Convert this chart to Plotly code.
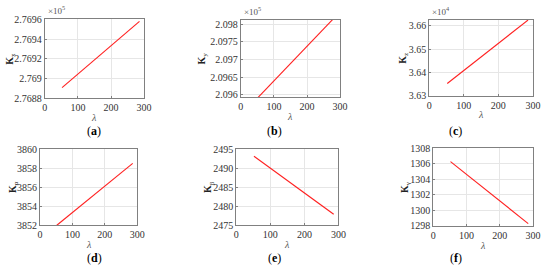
import plotly.graph_objects as go

# ---- data ----
lam = [52, 286]
Kx = [2.76891e5, 2.76958e5]
Ky = [2.09592e5, 2.09822e5]
Kz = [3.6353e4, 3.6624e4]
Ka = [3852.0, 3858.5]
Kb = [2493.2, 2477.9]
Kg = [1306.3, 1298.3]

x_ticks = [0, 100, 200, 300]
ticks_a = [2.7688, 2.769, 2.7692, 2.7694, 2.7696]
ticks_b = [2.096, 2.0965, 2.097, 2.0975, 2.098]
ticks_c = [3.63, 3.64, 3.65, 3.66]
ticks_d = [3852, 3854, 3856, 3858, 3860]
ticks_e = [2475, 2480, 2485, 2490, 2495]
ticks_f = [1298, 1300, 1302, 1304, 1306, 1308]

W, H = 550, 273
FONT = "Liberation Serif"

def fmt(v):
    s = ("%.4f" % v).rstrip("0").rstrip(".")
    return s

panels = [
    (Kx, 1e5, ticks_a, [2.7688, 2.7696], "5", "x", "a", (42.7, 144), (14, 96.7)),
    (Ky, 1e5, ticks_b, [2.09593, 2.09812], "5", "y", "b", (242.7, 344), (14.7, 95.3)),
    (Kz, 1e4, ticks_c, [3.63, 3.6624], "4", "z", "c", (435, 540.7), (14.7, 94)),
    (Ka, 1, ticks_d, [3852, 3860], None, "α", "d", (37.7, 137), (149.7, 229.3)),
    (Kb, 1, ticks_e, [2475, 2495], None, "β", "e", (238, 342.3), (150, 229.3)),
    (Kg, 1, ticks_f, [1298, 1308], None, "γ", "f", (439, 540.7), (149, 230)),
]

fig = go.Figure()
annotations = []
layout = {}
for i, (yv, sc, tks, yr, ex, sub, cap, xd, yd) in enumerate(panels, start=1):
    xa = "x" if i == 1 else "x%d" % i
    ya = "y" if i == 1 else "y%d" % i
    fig.add_trace(go.Scatter(x=lam, y=[v / sc for v in yv], mode="lines",
                             line=dict(color="#ff2020", width=1.1),
                             xaxis=xa, yaxis=ya, showlegend=False))
    axcommon = dict(showline=True, mirror=True, linecolor="#808080", linewidth=1,
                    showgrid=True, gridcolor="#e6e6e6", gridwidth=1,
                    ticks="inside", ticklen=2, tickcolor="#808080",
                    zeroline=False,
                    tickfont=dict(family=FONT, size=10, color="#333333"))
    xdom = [xd[0] / W, xd[1] / W]
    ydom = [1 - yd[1] / H, 1 - yd[0] / H]
    layout["xaxis" if i == 1 else "xaxis%d" % i] = dict(
        domain=xdom, range=[0, 300], tickvals=x_ticks, anchor=ya, **axcommon)
    layout["yaxis" if i == 1 else "yaxis%d" % i] = dict(
        domain=ydom, range=yr, tickvals=tks, ticktext=[fmt(t) for t in tks],
        anchor=xa, **axcommon)
    xmid = (xd[0] + xd[1]) / 2
    common = dict(xref="paper", yref="paper", showarrow=False)
    # lambda axis title
    annotations.append(dict(text="<i>λ</i>", x=xmid / W, y=1 - (yd[1] + 20) / H,
                            xanchor="center", yanchor="middle",
                            font=dict(family=FONT, size=10, color="#555555"), **common))
    # y-axis label
    lab_x = {1: 8, 2: 204, 3: 409, 4: 10, 5: 210, 6: 410}[i]
    annotations.append(dict(text="<b>K</b><sub>%s</sub>" % sub, x=lab_x / W,
                            y=1 - ((yd[0] + yd[1]) / 2) / H,
                            xanchor="center", yanchor="middle", textangle=-90,
                            font=dict(family=FONT, size=10, color="#222222"), **common))
    # exponent
    if ex:
        annotations.append(dict(text="×10<sup>%s</sup>" % ex, x=(xd[0] + 1) / W,
                                y=1 - (yd[0] - 1) / H,
                                xanchor="left", yanchor="bottom",
                                font=dict(family=FONT, size=9, color="#555555"), **common))
    # caption
    cap_x = {1: 93, 2: 277, 3: 462, 4: 93, 5: 277, 6: 462}[i]
    cap_y = 131 if i <= 3 else 264
    annotations.append(dict(text="(<b>%s</b>)" % cap, x=cap_x / W, y=1 - cap_y / H,
                            xanchor="center", yanchor="middle",
                            font=dict(family=FONT, size=12, color="#000000"), **common))

fig.update_layout(width=W, height=H, margin=dict(l=0, r=0, t=0, b=0),
                  paper_bgcolor="white", plot_bgcolor="white",
                  annotations=annotations, **layout)
fig.write_html("out.html")
